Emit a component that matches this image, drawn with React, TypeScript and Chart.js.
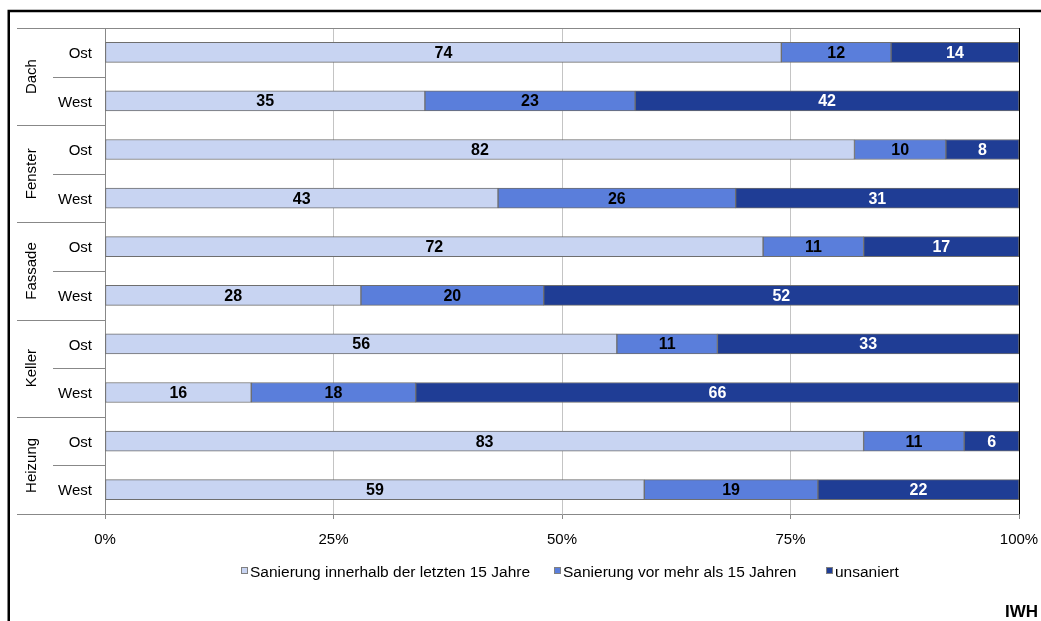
import React, { useEffect, useRef } from "react";
import { Chart, registerables } from "chart.js";

Chart.register(...registerables);

const groups = ["Dach", "Fenster", "Fassade", "Keller", "Heizung"];
const rowLabels = ["Ost", "West", "Ost", "West", "Ost", "West", "Ost", "West", "Ost", "West"];
const seriesNames = [
  "Sanierung innerhalb der letzten 15 Jahre",
  "Sanierung vor mehr als 15 Jahren",
  "unsaniert",
];
const recent = [74, 35, 82, 43, 72, 28, 56, 16, 83, 59];
const older = [12, 23, 10, 26, 11, 20, 11, 18, 11, 19];
const unsaniert = [14, 42, 8, 31, 17, 52, 33, 66, 6, 22];
const xTickValues = [0, 25, 50, 75, 100];

const fillColors = ["#c8d4f2", "#5a7edb", "#1f3d95"];
const labelColors = ["#000000", "#000000", "#ffffff"];
const FONT = "'Liberation Sans', Arial, sans-serif";
const LEGEND_X = [241, 554, 826];

const decor = {
  id: "decor",
  beforeDraw(chart: any) {
    const ctx = chart.ctx;
    ctx.save();
    ctx.fillStyle = "#ffffff";
    ctx.fillRect(0, 0, chart.width, chart.height);
    ctx.restore();
  },
  afterDraw(chart: any) {
    const ctx = chart.ctx;
    const { left, right, top, bottom } = chart.chartArea;
    const yScale = chart.scales.y;
    const n = rowLabels.length;
    const rowH = (bottom - top) / n;
    ctx.save();

    // plot top border
    ctx.strokeStyle = "#888888";
    ctx.lineWidth = 1;
    ctx.beginPath();
    ctx.moveTo(left, Math.round(top) + 0.5);
    ctx.lineTo(right, Math.round(top) + 0.5);
    ctx.stroke();

    // category separators
    ctx.beginPath();
    for (let g = 0; g <= groups.length; g++) {
      const y = Math.round(top + 2 * g * rowH) + 0.5;
      ctx.moveTo(17, y);
      ctx.lineTo(left, y);
    }
    for (let g = 0; g < groups.length; g++) {
      const y = Math.round(top + (2 * g + 1) * rowH) + 0.5;
      ctx.moveTo(53, y);
      ctx.lineTo(left, y);
    }
    ctx.stroke();

    // row labels
    ctx.fillStyle = "#000";
    ctx.font = `15px ${FONT}`;
    ctx.textAlign = "right";
    ctx.textBaseline = "middle";
    rowLabels.forEach((lab, i) => {
      ctx.fillText(lab, 92, yScale.getPixelForValue(i) + 1.5);
    });

    // group labels
    ctx.textAlign = "center";
    groups.forEach((g, gi) => {
      const yc = top + (2 * gi + 1) * rowH;
      ctx.save();
      ctx.translate(32, yc);
      ctx.rotate(-Math.PI / 2);
      ctx.fillText(g, 0, 0);
      ctx.restore();
    });

    // data labels
    ctx.font = `bold 16px ${FONT}`;
    chart.data.datasets.forEach((ds: any, di: number) => {
      const meta = chart.getDatasetMeta(di);
      ctx.fillStyle = labelColors[di];
      meta.data.forEach((bar: any, i: number) => {
        const c = bar.getCenterPoint();
        ctx.fillText(String(ds.data[i]), c.x, c.y + 1);
      });
    });

    // legend
    ctx.font = `15.5px ${FONT}`;
    ctx.textAlign = "left";
    const box = 6;
    const ly = 573;
    seriesNames.forEach((s, i) => {
      const x = LEGEND_X[i];
      ctx.fillStyle = fillColors[i];
      ctx.fillRect(x + 0.5, ly - 6 + 0.5, box, box);
      ctx.strokeStyle = "#808080";
      ctx.lineWidth = 1;
      ctx.strokeRect(x + 0.5, ly - 6 + 0.5, box, box);
      ctx.fillStyle = "#000";
      ctx.fillText(s, x + box + 3, ly);
    });

    // IWH mark
    ctx.font = `bold 17px ${FONT}`;
    ctx.textBaseline = "alphabetic";
    ctx.fillText("IWH", 1005, 617);

    // outer frame
    ctx.strokeStyle = "#000";
    ctx.lineWidth = 2.5;
    ctx.beginPath();
    ctx.moveTo(8.75, chart.height + 2);
    ctx.lineTo(8.75, 11);
    ctx.lineTo(chart.width + 2, 11);
    ctx.stroke();

    ctx.restore();
  },
};

export default function App() {
  const ref = useRef<HTMLCanvasElement | null>(null);

  useEffect(() => {
    document.body.style.margin = "0";
    const canvas = ref.current;
    if (!canvas) return;
    Chart.defaults.font.family = FONT;
    const chart = new Chart(canvas, {
      type: "bar",
      data: {
        labels: rowLabels,
        datasets: [recent, older, unsaniert].map((d, i) => ({
          label: seriesNames[i],
          data: d,
          backgroundColor: fillColors[i],
          borderColor: "#6e6e6e",
          borderWidth: 1,
          borderSkipped: false,
          barThickness: 20,
        })),
      },
      options: {
        indexAxis: "y",
        animation: false,
        responsive: false,
        devicePixelRatio: 1,
        layout: { padding: { left: 105, right: 22, top: 28, bottom: 0 } },
        plugins: {
          legend: { display: false },
          tooltip: { enabled: false },
        },
        scales: {
          x: {
            stacked: true,
            min: 0,
            max: 100,
            afterFit: (s: any) => {
              s.height = 107;
              s.paddingLeft = 0;
              s.paddingRight = 0;
            },
            afterBuildTicks: (s: any) => {
              s.ticks = xTickValues.map((v) => ({ value: v }));
            },
            ticks: {
              callback: (v: any) => `${v}%`,
              font: { size: 15 },
              color: "#000",
              padding: 12,
              maxRotation: 0,
            },
            grid: {
              color: (c: any) =>
                c.tick && c.tick.value === 100
                  ? "#000000"
                  : c.tick && c.tick.value === 0
                  ? "#888888"
                  : "#c4c4c4",
              tickColor: "#888888",
              tickLength: 5,
            },
            border: { display: true, color: "#888888" },
          },
          y: {
            stacked: true,
            display: false,
          },
        },
      },
      plugins: [decor],
    });
    return () => chart.destroy();
  }, []);

  return (
    <div style={{ position: "relative", width: 1041, height: 621 }}>
      <canvas ref={ref} width={1041} height={621} />
    </div>
  );
}
